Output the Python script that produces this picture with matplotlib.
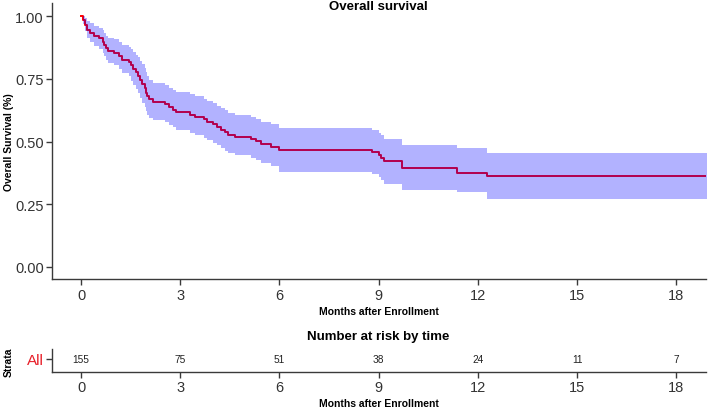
import matplotlib
matplotlib.use("Agg")
import matplotlib.pyplot as plt

plt.rcParams['font.family'] = ['Liberation Sans', 'DejaVu Sans']

# Kaplan-Meier estimate (step function, post)
times = [0.00, 0.06, 0.12, 0.18, 0.27, 0.40, 0.55, 0.65, 0.70, 0.75, 0.82, 1.00, 1.15, 1.23,
         1.45, 1.52, 1.58, 1.65, 1.72, 1.78, 1.85, 1.92, 1.95, 1.98, 2.05, 2.18, 2.55, 2.65,
         2.78, 2.88, 3.30, 3.45, 3.72, 3.80, 3.98, 4.12, 4.22, 4.35, 4.45, 4.65, 5.15, 5.30,
         5.45, 5.75, 5.98, 8.79, 9.00, 9.08, 9.15, 9.72, 11.37, 12.28, 19.2]
surv = [1.000, 0.987, 0.967, 0.947, 0.935, 0.922, 0.912, 0.899, 0.886, 0.872, 0.862, 0.855,
        0.842, 0.827, 0.817, 0.804, 0.790, 0.776, 0.762, 0.745, 0.730, 0.712, 0.695, 0.680,
        0.668, 0.656, 0.648, 0.636, 0.627, 0.617, 0.607, 0.598, 0.588, 0.578, 0.568, 0.558,
        0.548, 0.538, 0.528, 0.520, 0.512, 0.502, 0.491, 0.480, 0.467, 0.457, 0.447, 0.436,
        0.424, 0.396, 0.376, 0.363, 0.363]
upper = [1.000, 1.000, 0.994, 0.982, 0.973, 0.963, 0.955, 0.944, 0.933, 0.922, 0.914, 0.908,
         0.897, 0.884, 0.877, 0.868, 0.858, 0.847, 0.836, 0.822, 0.808, 0.792, 0.776, 0.760,
         0.747, 0.734, 0.726, 0.714, 0.706, 0.697, 0.688, 0.680, 0.670, 0.661, 0.652, 0.642,
         0.633, 0.624, 0.614, 0.607, 0.599, 0.590, 0.579, 0.568, 0.552, 0.545, 0.535, 0.525,
         0.510, 0.487, 0.474, 0.455, 0.455]
lower = [1.000, 0.969, 0.940, 0.913, 0.897, 0.881, 0.869, 0.855, 0.840, 0.825, 0.813, 0.805,
         0.790, 0.773, 0.760, 0.743, 0.726, 0.709, 0.692, 0.672, 0.655, 0.636, 0.620, 0.606,
         0.595, 0.585, 0.578, 0.566, 0.557, 0.547, 0.536, 0.527, 0.516, 0.506, 0.495, 0.485,
         0.474, 0.464, 0.453, 0.445, 0.436, 0.426, 0.414, 0.402, 0.380, 0.370, 0.359, 0.346,
         0.332, 0.305, 0.299, 0.272, 0.272]

risk_times = [0, 3, 6, 9, 12, 15, 18]
risk_counts = [155, 75, 51, 38, 24, 11, 7]
x_ticks = [0, 3, 6, 9, 12, 15, 18]
y_ticks = [0.00, 0.25, 0.50, 0.75, 1.00]

W, H = 709, 410
fig = plt.figure(figsize=(W / 100, H / 100), dpi=100)

def fx(px):
    return px / W

def fy(py):
    return 1 - py / H

axis_color = '#3a3a3a'
tick_color = '#333333'

# main axes
ax = fig.add_axes([fx(52), fy(280.3), fx(706 - 52), (280.3 - 4) / H])
ax.plot(times, surv, drawstyle='steps-post', color='#FF0000', lw=1.4, zorder=2)
ax.fill_between(times, lower, upper, step='post', color='#0000FF', alpha=0.3,
                linewidth=0, zorder=3)
ax.set_xlim(-0.88, 18.9)
ax.set_ylim(-0.05, 1.053)
ax.set_xticks(x_ticks)
ax.set_yticks(y_ticks)
ax.set_yticklabels([f"{v:.2f}" for v in y_ticks])
for s in ['top', 'right']:
    ax.spines[s].set_visible(False)
for s in ['left', 'bottom']:
    ax.spines[s].set_color(axis_color)
    ax.spines[s].set_linewidth(1.0)
ax.tick_params(axis='both', direction='out', length=4, width=1.0, color=axis_color,
               labelsize=10.5, labelcolor=tick_color, pad=2)
ax.set_xlabel('Months after Enrollment', fontsize=7.5, fontweight='bold', labelpad=3)
ax.set_ylabel('Overall Survival (%)', fontsize=7.5, fontweight='bold')
ax.yaxis.set_label_coords((14 - 52) / 654, 0.5)

fig.text(fx(378), fy(7), 'Overall survival', ha='center', va='center',
         fontsize=9.5, fontweight='bold')

# risk table axes
rax = fig.add_axes([fx(52), fy(372.7), fx(706 - 52), (372.7 - 350) / H])
rax.set_xlim(-0.88, 18.9)
rax.set_ylim(0, 1)
for t, n in zip(risk_times, risk_counts):
    rax.text(t, 0.56, str(n), ha='center', va='center', fontsize=7.3, color='#222222')
rax.set_xticks(x_ticks)
rax.set_yticks([0.56])
rax.set_yticklabels(['All'])
for s in ['top', 'right']:
    rax.spines[s].set_visible(False)
for s in ['left', 'bottom']:
    rax.spines[s].set_color(axis_color)
    rax.spines[s].set_linewidth(1.0)
rax.tick_params(axis='both', direction='out', length=4, width=1.0, color=axis_color,
                labelsize=10.5, labelcolor=tick_color, pad=2)
rax.get_yticklabels()[0].set_color('#E8202A')
rax.get_yticklabels()[0].set_fontsize(11)
rax.set_xlabel('Months after Enrollment', fontsize=7.5, fontweight='bold', labelpad=3)

fig.text(fx(9), fy(362), 'Strata', rotation=90, ha='center', va='center',
         fontsize=7.5, fontweight='bold')
fig.text(fx(378), fy(337), 'Number at risk by time', ha='center', va='center',
         fontsize=9.5, fontweight='bold')

fig.savefig('out.png', dpi=100)
